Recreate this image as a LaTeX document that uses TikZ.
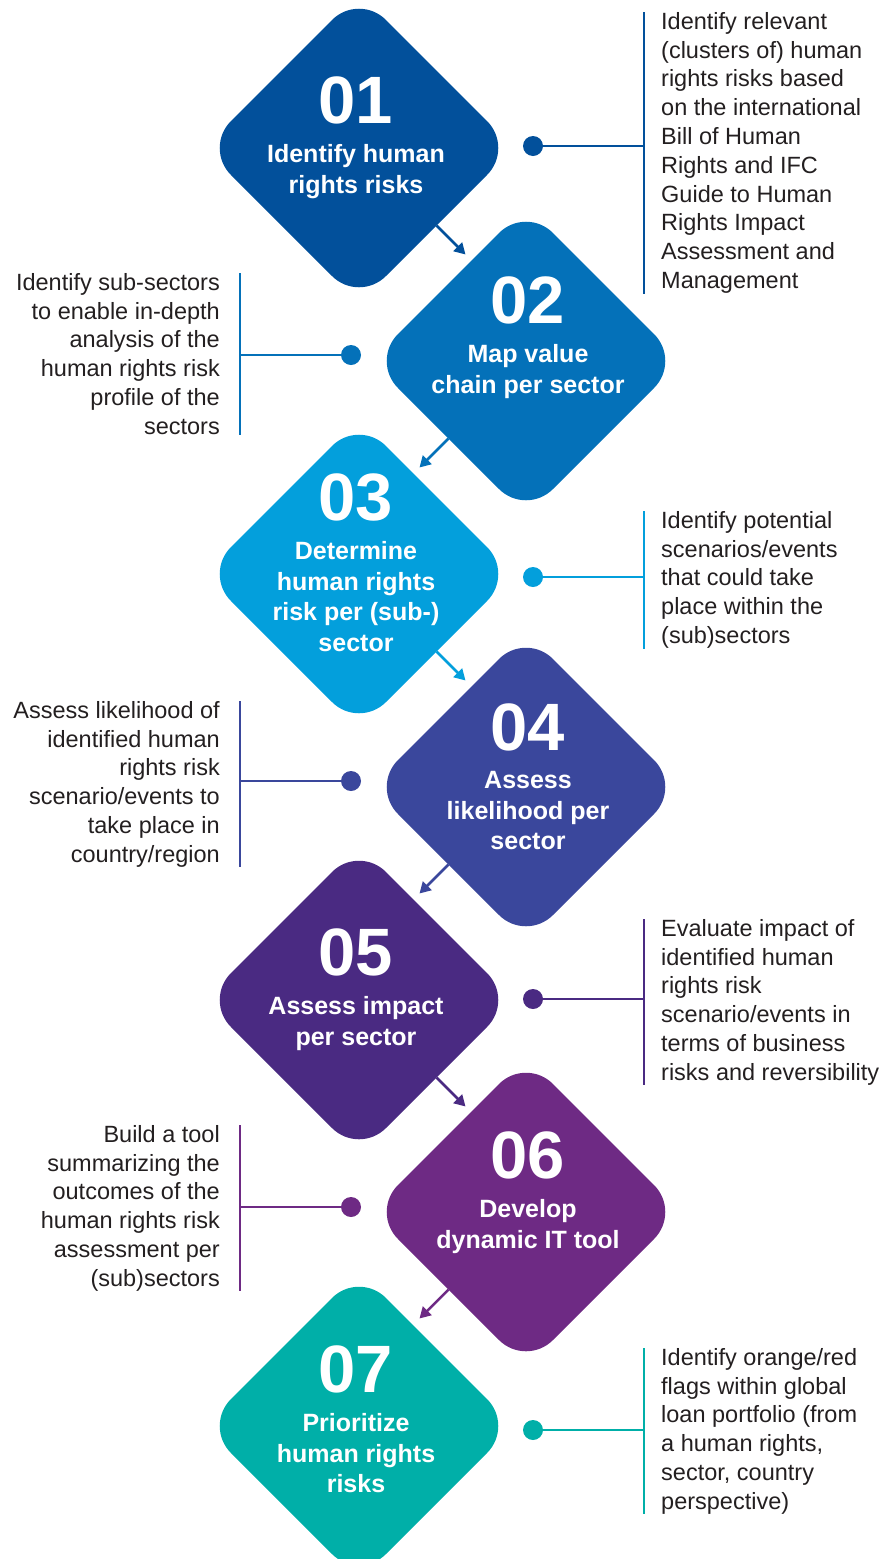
\documentclass[tikz,border=0pt]{standalone}
\usepackage{fontspec}
\setmainfont{Liberation Sans}
\usetikzlibrary{shapes.geometric,arrows.meta,calc}
\definecolor{cA}{RGB}{2,80,155}
\definecolor{cB}{RGB}{4,113,185}
\definecolor{cC}{RGB}{3,159,220}
\definecolor{cD}{RGB}{58,71,156}
\definecolor{cE}{RGB}{74,42,130}
\definecolor{cF}{RGB}{110,42,132}
\definecolor{cG}{RGB}{0,175,168}
\definecolor{txt}{RGB}{35,31,32}
\begin{document}
\begin{tikzpicture}[x=1pt,y=-1pt,
  dia/.style={diamond, aspect=1, minimum width=310pt, minimum height=310pt, inner sep=0pt, outer sep=0pt, rounded corners=38pt},
  num/.style={text=white, font={\fontsize{67}{67}\selectfont\bfseries}, inner sep=0pt},
  ttl/.style={text=white, font={\fontsize{25}{30.5}\selectfont\bfseries}, align=center, inner sep=0pt, anchor=north},
  desc/.style={text=txt, font={\fontsize{23.5}{28.8}\selectfont}, inner sep=0pt},
  descR/.style={desc, align=left, anchor=north west},
  descL/.style={desc, align=right, anchor=north east},
  dotn/.style={circle, minimum size=20pt, inner sep=0pt, outer sep=0pt},
  cline/.style={line width=2.5pt},
  flow/.style={line width=2.5pt, -{Triangle[length=11pt,width=12pt]}}
]
\useasboundingbox (0,0) rectangle (884,1559);
\clip (0,0) rectangle (884,1559);

% diamonds
\node[dia, fill=cA] (d1) at (359,148) {};
\node[dia, fill=cB] (d2) at (526,361) {};
\node[dia, fill=cC] (d3) at (359,574) {};
\node[dia, fill=cD] (d4) at (526,787) {};
\node[dia, fill=cE] (d5) at (359,1000) {};
\node[dia, fill=cF] (d6) at (526,1212) {};
\node[dia, fill=cG] (d7) at (359,1426) {};

% numbers and titles
\node[num] (n1) at (356,100) {01};
\node[ttl] (t1) at (356,144.5) {Identify human\\rights risks};
\node[num] (n2) at (528,300) {02};
\node[ttl] (t2) at (528,344.5) {Map value\\chain per sector};
\node[num] (n3) at (356,497) {03};
\node[ttl] (t3) at (356,541.5) {Determine\\human rights\\risk per (sub-)\\sector};
\node[num] (n4) at (528,727) {04};
\node[ttl] (t4) at (528,771.5) {Assess\\likelihood per\\sector};
\node[num] (n5) at (356,952) {05};
\node[ttl] (t5) at (356,996.5) {Assess impact\\per sector};
\node[num] (n6) at (528,1155) {06};
\node[ttl] (t6) at (528,1199.5) {Develop\\dynamic IT tool};
\node[num] (n7) at (356,1369) {07};
\node[ttl] (t7) at (356,1413.5) {Prioritize\\human rights\\risks};

% flow arrows
\coordinate (e1) at ($(d1.south east)+(29,29)$);
\coordinate (e2) at ($(d2.south west)+(-29,29)$);
\coordinate (e3) at ($(d3.south east)+(29,29)$);
\coordinate (e4) at ($(d4.south west)+(-29,29)$);
\coordinate (e5) at ($(d5.south east)+(29,29)$);
\coordinate (e6) at ($(d6.south west)+(-29,29)$);
\draw[flow, cA] (d1.south east) -- (e1);
\draw[flow, cB] (d2.south west) -- (e2);
\draw[flow, cC] (d3.south east) -- (e3);
\draw[flow, cD] (d4.south west) -- (e4);
\draw[flow, cE] (d5.south east) -- (e5);
\draw[flow, cF] (d6.south west) -- (e6);

% descriptions
\node[descR] (x1) at (661,12) {Identify relevant\\(clusters of) human\\rights risks based\\on the international\\Bill of Human\\Rights and IFC\\Guide to Human\\Rights Impact\\Assessment and\\Management};
\node[descL] (x2) at (220,273) {Identify sub-sectors\\to enable in-depth\\analysis of the\\human rights risk\\profile of the\\sectors};
\node[descR] (x3) at (661,511) {Identify potential\\scenarios/events\\that could take\\place within the\\(sub)sectors};
\node[descL] (x4) at (220,701) {Assess likelihood of\\identified human\\rights risk\\scenario/events to\\take place in\\country/region};
\node[descR] (x5) at (661,919) {Evaluate impact of\\identified human\\rights risk\\scenario/events in\\terms of business\\risks and reversibility};
\node[descL] (x6) at (220,1125) {Build a tool\\summarizing the\\outcomes of the\\human rights risk\\assessment per\\(sub)sectors};
\node[descR] (x7) at (661,1348) {Identify orange/red\\flags within global\\loan portfolio (from\\a human rights,\\sector, country\\perspective)};

% dots
\node[dotn, fill=cA] (p1) at (533,146) {};
\node[dotn, fill=cB] (p2) at (351,355) {};
\node[dotn, fill=cC] (p3) at (533,577) {};
\node[dotn, fill=cD] (p4) at (351,781) {};
\node[dotn, fill=cE] (p5) at (533,999) {};
\node[dotn, fill=cF] (p6) at (351,1207) {};
\node[dotn, fill=cG] (p7) at (533,1430) {};

% bracket lines
\coordinate (v1a) at ([xshift=-17pt]x1.north west);
\coordinate (v1b) at ([xshift=-17pt]x1.south west);
\coordinate (v2a) at ([xshift=20pt]x2.north east);
\coordinate (v2b) at ([xshift=20pt]x2.south east);
\coordinate (v3a) at ([xshift=-17pt]x3.north west);
\coordinate (v3b) at ([xshift=-17pt]x3.south west);
\coordinate (v4a) at ([xshift=20pt]x4.north east);
\coordinate (v4b) at ([xshift=20pt]x4.south east);
\coordinate (v5a) at ([xshift=-17pt]x5.north west);
\coordinate (v5b) at ([xshift=-17pt]x5.south west);
\coordinate (v6a) at ([xshift=20pt]x6.north east);
\coordinate (v6b) at ([xshift=20pt]x6.south east);
\coordinate (v7a) at ([xshift=-17pt]x7.north west);
\coordinate (v7b) at ([xshift=-17pt]x7.south west);

\draw[cline, cA] (v1a) -- (v1b);
\draw[cline, cA] (p1.center) -- (p1 -| v1a);
\draw[cline, cB] (v2a) -- (v2b);
\draw[cline, cB] (p2.center) -- (p2 -| v2a);
\draw[cline, cC] (v3a) -- (v3b);
\draw[cline, cC] (p3.center) -- (p3 -| v3a);
\draw[cline, cD] (v4a) -- (v4b);
\draw[cline, cD] (p4.center) -- (p4 -| v4a);
\draw[cline, cE] (v5a) -- (v5b);
\draw[cline, cE] (p5.center) -- (p5 -| v5a);
\draw[cline, cF] (v6a) -- (v6b);
\draw[cline, cF] (p6.center) -- (p6 -| v6a);
\draw[cline, cG] (v7a) -- (v7b);
\draw[cline, cG] (p7.center) -- (p7 -| v7a);
\end{tikzpicture}
\end{document}
